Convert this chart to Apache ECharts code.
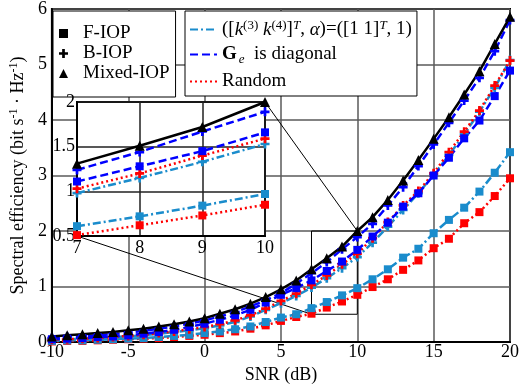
<!DOCTYPE html>
<html>
<head>
<meta charset="utf-8">
<script src="https://cdn.jsdelivr.net/npm/echarts@6/dist/echarts.min.js"></script>
<style>
  html, body { margin: 0; padding: 0; background: #fff; }
  #chart { width: 522px; height: 392px; }
</style>
</head>
<body>
<div id="chart"></div>
<script>
// SNR points (dB)
const snr = [-10, -9, -8, -7, -6, -5, -4, -3, -2, -1, 0, 1, 2, 3, 4, 5, 6, 7, 8, 9, 10,
  11, 12, 13, 14, 15, 16, 17, 18, 19, 20];

// spectral efficiency curves
const mixedIop = [0.10, 0.12, 0.14, 0.16, 0.18, 0.21, 0.24, 0.28, 0.32, 0.37, 0.43, 0.51, 0.59, 0.69, 0.81, 0.95,
  1.11, 1.31, 1.51, 1.72, 2.00, 2.25, 2.56, 2.91, 3.28, 3.66, 4.05, 4.46, 4.88, 5.37, 5.86];
const bIopDiag = [0.07, 0.09, 0.10, 0.12, 0.14, 0.17, 0.20, 0.24, 0.28, 0.33, 0.39, 0.46, 0.54, 0.64, 0.75, 0.88,
  1.05, 1.24, 1.44, 1.67, 1.89, 2.13, 2.46, 2.79, 3.17, 3.56, 3.95, 4.35, 4.76, 5.24, 5.80];
const fIopDiag = [0.05, 0.06, 0.07, 0.09, 0.10, 0.12, 0.15, 0.18, 0.22, 0.27, 0.33, 0.40, 0.48, 0.58, 0.71, 0.85,
  0.97, 1.11, 1.28, 1.45, 1.66, 1.90, 2.15, 2.44, 2.68, 3.00, 3.32, 3.67, 3.99, 4.43, 4.89];
const bIopRandom = [0.04, 0.05, 0.06, 0.07, 0.09, 0.11, 0.13, 0.16, 0.19, 0.23, 0.27, 0.32, 0.39, 0.48, 0.60, 0.74,
  0.87, 1.03, 1.20, 1.40, 1.59, 1.87, 2.16, 2.46, 2.72, 3.04, 3.42, 3.79, 4.17, 4.62, 5.07];
const bIopK = [0.04, 0.05, 0.06, 0.07, 0.09, 0.10, 0.12, 0.15, 0.18, 0.21, 0.25, 0.30, 0.36, 0.46, 0.58, 0.70,
  0.83, 0.98, 1.15, 1.33, 1.53, 1.79, 2.08, 2.38, 2.68, 3.01, 3.37, 3.74, 4.15, 4.58, 5.08];
const fIopK = [0.02, 0.03, 0.03, 0.04, 0.05, 0.06, 0.07, 0.09, 0.11, 0.13, 0.16, 0.19, 0.23, 0.28, 0.36, 0.44,
  0.50, 0.61, 0.72, 0.84, 0.97, 1.13, 1.31, 1.52, 1.68, 1.96, 2.20, 2.42, 2.71, 3.05, 3.42];
const fIopRandom = [0.01, 0.02, 0.02, 0.03, 0.04, 0.05, 0.06, 0.07, 0.09, 0.11, 0.13, 0.16, 0.19, 0.24, 0.30, 0.38,
  0.45, 0.51, 0.62, 0.73, 0.85, 0.99, 1.13, 1.30, 1.47, 1.69, 1.86, 2.14, 2.34, 2.63, 2.95];

// zoomed window shown in the inset
const insetX = [7, 10];
const insetY = [0.5, 2];

const markerNames = ["F-IOP", "B-IOP", "Mixed-IOP"];
const schemeNames = ["kalpha", "diag", "Random"];

const FONT = "Liberation Serif";
const BLACK = "#000000";
const BLUE = "#0000ff";
const LBLUE = "#1a8ccc";
const RED = "#ff0000";
const PLUS = "path://M3.5,0h3v3.5h3.5v3h-3.5v3.5h-3v-3.5h-3.5v-3h3.5z";

const curves = [
  { data: fIopRandom, color: RED, dash: [2, 3], symbol: "rect", size: 8 },
  { data: fIopK, color: LBLUE, dash: [8, 3, 2, 3], symbol: "rect", size: 8 },
  { data: bIopK, color: LBLUE, dash: [8, 3, 2, 3], symbol: PLUS, size: 9 },
  { data: bIopRandom, color: RED, dash: [2, 3], symbol: PLUS, size: 9 },
  { data: fIopDiag, color: BLUE, dash: [8, 4], symbol: "rect", size: 8 },
  { data: bIopDiag, color: BLUE, dash: [8, 4], symbol: PLUS, size: 9 },
  { data: mixedIop, color: BLACK, dash: "solid", symbol: "triangle", size: 10 },
];

function pairs(vals) {
  return snr.map((x, i) => [x, vals[i]]);
}
function insetPairs(vals) {
  return pairs(vals).filter(p => p[0] >= insetX[0] && p[0] <= insetX[1]);
}

const series = [];
curves.forEach(c => {
  series.push({
    type: "line", xAxisIndex: 0, yAxisIndex: 0, data: pairs(c.data),
    symbol: c.symbol, symbolSize: c.size, showAllSymbol: true,
    lineStyle: { color: c.color, width: 2.5, type: c.dash },
    itemStyle: { color: c.color }, z: 2, animation: false, silent: true,
  });
  series.push({
    type: "line", xAxisIndex: 1, yAxisIndex: 1, data: insetPairs(c.data),
    symbol: c.symbol, symbolSize: c.size, showAllSymbol: true,
    lineStyle: { color: c.color, width: 2.5, type: c.dash },
    itemStyle: { color: c.color }, z: 6, animation: false, silent: true,
  });
});

// zoom window outline on the main axes
series.push({
  type: "line", xAxisIndex: 0, yAxisIndex: 0, symbol: "none", silent: true, animation: false,
  data: [[insetX[0], insetY[0]], [insetX[1], insetY[0]], [insetX[1], insetY[1]], [insetX[0], insetY[1]], [insetX[0], insetY[0]]],
  lineStyle: { color: "#000", width: 1, type: "solid" }, z: 1,
});

// legend-only entries
const markerIcons = ["rect", PLUS, "triangle"];
markerNames.forEach(n => {
  series.push({ type: "line", name: n, data: [], itemStyle: { color: BLACK }, lineStyle: { width: 0 } });
});
const schemeStyles = [
  { color: LBLUE, dash: [8, 3, 2, 3] },
  { color: BLUE, dash: [8, 4] },
  { color: RED, dash: [2, 3] },
];
schemeNames.forEach((n, i) => {
  series.push({
    type: "line", name: n, data: [], symbol: "none",
    itemStyle: { color: schemeStyles[i].color },
    lineStyle: { color: schemeStyles[i].color, width: 2.5, type: schemeStyles[i].dash },
  });
});

const chart = echarts.init(document.getElementById("chart"));

const axisLabelStyle = { fontFamily: FONT, fontSize: 18, color: "#000" };

chart.setOption({
  backgroundColor: "#fff",
  animation: false,
  textStyle: { fontFamily: FONT },
  grid: [
    { left: 46, right: 9, top: 4, bottom: 50, show: true, borderColor: "#000", borderWidth: 2, backgroundColor: "transparent" },
    { left: 77, top: 102, width: 188, height: 134, show: true, borderColor: "#000", borderWidth: 2, backgroundColor: "#fff", z: 3 },
  ],
  xAxis: [
    {
      type: "value", gridIndex: 0, min: -10, max: 20, interval: 5,
      axisLine: { show: true, onZero: false, lineStyle: { color: "#000", width: 2 } },
      axisTick: { show: false },
      splitLine: { show: true, lineStyle: { color: "#5a5a5a", width: 1.5 } },
      axisLabel: { ...axisLabelStyle, margin: 1 },
      name: "SNR (dB)", nameLocation: "middle", nameGap: 22,
      nameTextStyle: { fontFamily: FONT, fontSize: 18, color: "#000" },
    },
    {
      type: "value", gridIndex: 1, min: insetX[0], max: insetX[1], interval: 1, z: 4,
      axisLine: { show: true, onZero: false, lineStyle: { color: "#000", width: 2 } },
      axisTick: { show: false },
      splitLine: { show: true, lineStyle: { color: "#202020", width: 1.5 } },
      axisLabel: { ...axisLabelStyle, margin: 3 },
    },
  ],
  yAxis: [
    {
      type: "value", gridIndex: 0, min: 0, max: 6, interval: 1,
      axisLine: { show: true, onZero: false, lineStyle: { color: "#000", width: 2 } },
      axisTick: { show: false },
      splitLine: { show: true, lineStyle: { color: "#5a5a5a", width: 1.5 } },
      axisLabel: { ...axisLabelStyle, margin: 5 },
      name: "Spectral efficiency (bit s{sup|-1} · Hz{sup|-1})", nameLocation: "middle", nameGap: 15,
      nameTextStyle: {
        fontFamily: FONT, fontSize: 18, color: "#000",
        rich: { sup: { fontFamily: FONT, fontSize: 12, color: "#000", verticalAlign: "top", padding: [0, 0, 8, 0] } },
      },
    },
    {
      type: "value", gridIndex: 1, min: insetY[0], max: insetY[1], interval: 0.5, z: 4,
      axisLine: { show: true, onZero: false, lineStyle: { color: "#000", width: 2 } },
      axisTick: { show: false },
      splitLine: { show: true, lineStyle: { color: "#202020", width: 1.5 } },
      axisLabel: { ...axisLabelStyle, margin: 2 },
    },
  ],
  legend: [
    {
      data: markerNames.map((n, i) => ({ name: n, icon: markerIcons[i] })),
      orient: "vertical", left: 53, top: 11,
      itemWidth: 9, itemHeight: 9, itemGap: 1,
      padding: [13, 6, 14, 6],
      backgroundColor: "#fff", borderColor: "#000", borderWidth: 1,
      selectedMode: false,
      textStyle: { fontFamily: FONT, fontSize: 19, color: "#000", padding: [0, 0, 0, 10] },
    },
    {
      data: schemeNames,
      orient: "vertical", left: 185, top: 11,
      itemWidth: 27, itemHeight: 12, itemGap: 6,
      padding: [8, 5, 5, 4],
      backgroundColor: "#fff", borderColor: "#000", borderWidth: 1,
      selectedMode: false,
      itemStyle: { opacity: 0 },
      lineStyle: { opacity: 1 },
      formatter: name => {
        if (name === "kalpha") return "([{i|k}{sup|(3)} {i|k}{sup|(4)}]{supi|T}, {i|α})=([1 1]{supi|T}, 1)";
        if (name === "diag") return "{b|G}{sub|e}  is diagonal";
        return name;
      },
      textStyle: {
        fontFamily: FONT, fontSize: 19, color: "#000",
        rich: {
          i: { fontFamily: FONT, fontSize: 19, fontStyle: "italic", color: "#000" },
          sup: { fontFamily: FONT, fontSize: 13, color: "#000", verticalAlign: "top", padding: [0, 0, 8, 0] },
          supi: { fontFamily: FONT, fontSize: 13, fontStyle: "italic", color: "#000", verticalAlign: "top", padding: [0, 0, 8, 0] },
          b: { fontFamily: FONT, fontSize: 19, fontWeight: "bold", color: "#000" },
          sub: { fontFamily: FONT, fontSize: 13, fontStyle: "italic", color: "#000", verticalAlign: "bottom", padding: [10, 0, 0, 2] },
        },
      },
    },
  ],
  series,
});

// connector lines from the inset corners to the zoom window
const insetTR = chart.convertToPixel({ gridIndex: 1 }, [insetX[1], insetY[1]]);
const mainTR = chart.convertToPixel({ gridIndex: 0 }, [insetX[1], insetY[1]]);
const insetBL = chart.convertToPixel({ gridIndex: 1 }, [insetX[0], insetY[0]]);
const mainBL = chart.convertToPixel({ gridIndex: 0 }, [insetX[0], insetY[0]]);
chart.setOption({
  graphic: [
    { type: "line", silent: true, z: 1, shape: { x1: insetTR[0], y1: insetTR[1], x2: mainTR[0], y2: mainTR[1] }, style: { stroke: "#000", lineWidth: 1 } },
    { type: "line", silent: true, z: 1, shape: { x1: insetBL[0], y1: insetBL[1], x2: mainBL[0], y2: mainBL[1] }, style: { stroke: "#000", lineWidth: 1 } },
  ],
});
</script>
</body>
</html>
